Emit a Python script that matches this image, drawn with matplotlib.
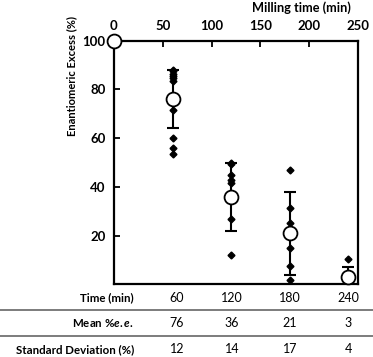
import numpy as np
import matplotlib.pyplot as plt

plt.rcParams['font.family'] = ['Lato', 'DejaVu Sans']
plt.rcParams['mathtext.fontset'] = 'custom'
plt.rcParams['mathtext.it'] = 'Lato:italic:bold'
plt.rcParams['mathtext.rm'] = 'Lato:bold'

times = [60, 120, 180, 240]
points = {
    60: [88, 87.5, 86.5, 85.5, 84.5, 83.5, 71.5, 60, 56, 53.5],
    120: [50, 49.5, 45, 43, 41.5, 27, 12],
    180: [47, 31.3, 25.2, 15, 7.5, 1.6],
    240: [10.2, 0.5],
}
mean_time = [0, 60, 120, 180, 240]
mean_ee = [100, 76, 36, 21, 3]
std_ee = [0, 12, 14, 17, 4]

row_labels = ['Time (min)', r'Mean %$\it{e.e.}$', 'Standard Deviation (%)']

fig = plt.figure(figsize=(3.73, 3.57), dpi=100)
ax = fig.add_axes([0.3056, 0.2036, 0.6542, 0.6824])

for t in times:
    ax.plot([t] * len(points[t]), points[t], 'kD', markersize=3.5, zorder=3)

ax.errorbar(mean_time[1:], mean_ee[1:], yerr=std_ee[1:], fmt='none', ecolor='black',
            elinewidth=1.5, capsize=4, capthick=1.5, zorder=2)
ax.plot(mean_time, mean_ee, 'o', markersize=10, markerfacecolor='white',
        markeredgecolor='black', markeredgewidth=1.3, zorder=4, clip_on=False)

ax.set_xlim(0, 250)
ax.set_ylim(0, 100)
ax.set_xticks([0, 50, 100, 150, 200, 250])
ax.set_yticks([20, 40, 60, 80, 100])
ax.xaxis.tick_top()
ax.tick_params(direction='in', length=4, width=1.3, labelsize=9.5, pad=6)
for lbl in ax.get_xticklabels() + ax.get_yticklabels():
    lbl.set_fontweight('bold')
for s in ax.spines.values():
    s.set_linewidth(1.6)

# axis titles placed in figure pixels
fig.text(301 / 373, 1 - 7.5 / 357, 'Milling time (min)', ha='center', va='center',
         fontsize=9.2, fontweight='bold')
fig.text(72 / 373, 1 - 75.5 / 357, 'Enantiomeric Excess (%)', ha='center', va='center',
         rotation=90, fontsize=8, fontweight='bold')

# Table below the chart
table_rows = [times, mean_ee[1:], std_ee[1:]]
row_y = [297.7, 323.3, 349.3]
col_x = [177, 232, 290, 348]
for label, vals, yp in zip(row_labels, table_rows, row_y):
    fy = 1 - yp / 357
    fig.text(134 / 373, fy, label, ha='right', va='center', fontsize=8.3, fontweight='bold')
    for v, xp in zip(vals, col_x):
        fig.text(xp / 373, fy, str(v), ha='center', va='center', fontsize=9)
for yp in [309.5, 336]:
    fig.add_artist(plt.Line2D([0, 1], [1 - yp / 357] * 2, color='#666666', linewidth=1.2))

fig.savefig('out.png', dpi=100)
